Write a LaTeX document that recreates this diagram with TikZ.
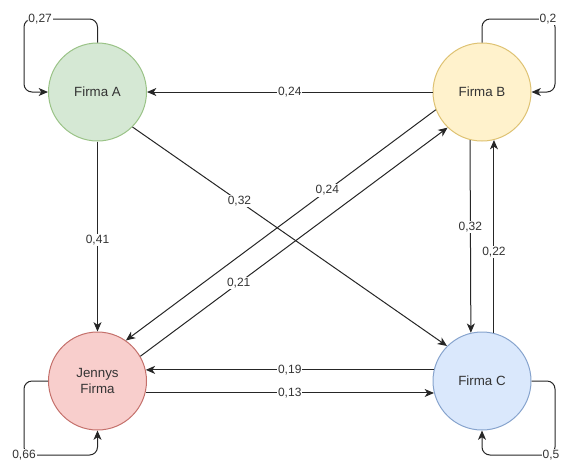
\documentclass[tikz,border=0pt]{standalone}
\usepackage{fontspec}
\setmainfont{Liberation Sans}
\usetikzlibrary{arrows.meta,calc}
\definecolor{gfill}{HTML}{D5E8D4}\definecolor{gline}{HTML}{9AC387}
\definecolor{yfill}{HTML}{FFF2CC}\definecolor{yline}{HTML}{DEC272}
\definecolor{rfill}{HTML}{F8CECC}\definecolor{rline}{HTML}{C4706B}
\definecolor{bfill}{HTML}{DAE8FC}\definecolor{bline}{HTML}{86A3CD}
\definecolor{txt}{HTML}{333333}
\tikzset{
  firm/.style={circle, minimum size=73.5pt, inner sep=0pt, line width=0.75pt, align=center,
    text=txt, font=\fontsize{10}{12}\selectfont},
  conn/.style={line width=0.75pt, draw=black!85, -{Stealth[length=7pt,width=6pt,inset=2pt]}},
  loopc/.style={conn, rounded corners=6pt},
  lbl/.style={fill=white, inner sep=0.8pt, text=txt, font=\fontsize{9}{10}\selectfont}
}
\begin{document}
\begin{tikzpicture}[x=0.75pt,y=-0.75pt]
\useasboundingbox (0,0) rectangle (561,462);
\node[firm, fill=gfill, draw=gline] (A) at (97.5,92) {Firma A};
\node[firm, fill=yfill, draw=yline] (B) at (482,92) {Firma B};
\node[firm, fill=rfill, draw=rline] (J) at (97.5,381) {Jennys\\Firma};
\node[firm, fill=bfill, draw=bline] (C) at (482,381) {Firma C};

% self loops
\draw[loopc] (A.north) -- (97.5,19) -- node[lbl,pos=0.78]{0,27} (24,19) -- (24,92) -- (A.west);
\draw[loopc] (B.north) -- (482,19) -- (555,19) -- (555,92) -- (B.east);
\node[lbl] (lB) at (548,19) {0,2};
\draw[loopc] (J.west) -- (24,381) -- (24,455) -- (97.5,455) -- (J.south);
\node[lbl] (lJ) at (24,455) {0,66};
\draw[loopc] (C.east) -- (555,381) -- (555,455) -- (482,455) -- (C.south);
\node[lbl] (lC) at (551,455) {0,5};

% edges
\draw[conn] (B.west) -- node[lbl,pos=0.5]{0,24} (A.east);
\draw[conn] (A.south) -- node[lbl,pos=0.52]{0,41} (J.north);
\draw[conn] (A.-45) -- node[lbl,pos=0.34]{0,32} (C.135);
\draw[conn] (B.201) -- node[lbl,pos=0.35]{0,24} (J.55.5);
\draw[conn] (J.30.6) -- node[lbl,pos=0.32]{0,21} (B.226);
\draw[conn] (B.256.7) -- node[lbl,pos=0.45]{0,32} (C.103.3);
\draw[conn] (C.76) -- node[lbl,pos=0.42]{0,22} (B.284);
\draw[conn] (C.167) -- node[lbl,pos=0.5]{0,19} (J.13);
\draw[conn] (J.-14) -- node[lbl,pos=0.5]{0,13} (C.194);
\end{tikzpicture}
\end{document}
